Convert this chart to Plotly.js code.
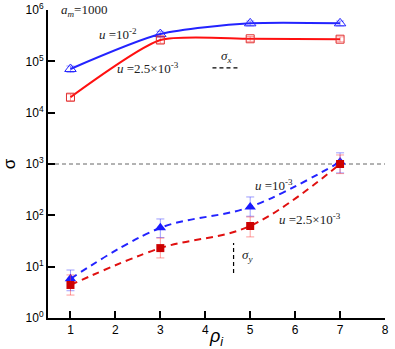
<!DOCTYPE html>
<html>
<head>
<meta charset="utf-8">
<script src="https://cdn.plot.ly/plotly-3.0.1.min.js"></script>
<style>body{margin:0;background:#fff}</style>
</head>
<body>
<div id="chart" style="width:395px;height:349px;"></div>
<script>
let rho = [1, 3, 5, 7];

// sigma_x, solid lines
let sxHigh = [7.1e4, 3.4e5, 5.5e5, 5.5e5];      // u = 1e-2
let sxHighErr = [1.0e4, 4.5e4, 6e4, 6e4];
let sxLow = [2.0e4, 2.6e5, 2.75e5, 2.7e5];      // u = 2.5e-3
let sxLowErr = [3e3, 3.5e4, 3e4, 3e4];

// sigma_y, dashed lines
let syHigh = [5.8, 57, 146, 1100];              // u = 1e-3
let syHighUp = [2.8, 28, 82, 550];
let syHighDn = [2.4, 20, 50, 430];
let syLow = [4.4, 23, 62, 1000];                // u = 2.5e-3
let syLowUp = [2.5, 13, 31, 500];
let syLowDn = [1.6, 8.2, 24, 350];

let xRef = [0.5, 8];
let yRef = [1000, 1000];

let yTickVals = [1, 10, 100, 1000, 1e4, 1e5, 1e6];
let yTickText = ['10<sup>0</sup>', '10<sup>1</sup>', '10<sup>2</sup>', '10<sup>3</sup>', '10<sup>4</sup>', '10<sup>5</sup>', '10<sup>6</sup>'];

const blue = '#2323ff';
const red = '#ff1010';

function errs(up, dn, col) {
    return {type: 'data', symmetric: false, array: up, arrayminus: dn, color: col, thickness: 1, width: 4};
}

let data = [
    {
        x: xRef, y: yRef, mode: 'lines', showlegend: false,
        line: {color: '#666', width: 1, dash: '4px,3px'}, hoverinfo: 'skip'
    },
    {
        x: rho, y: sxHigh, mode: 'lines+markers', line: {color: blue, width: 2, shape: 'spline', smoothing: 0.7},
        marker: {symbol: 'triangle-up-open', size: 10, color: blue, line: {width: 1}},
        error_y: errs(sxHighErr, sxHighErr, 'rgba(60,60,255,0.5)')
    },
    {
        x: rho, y: sxLow, mode: 'lines+markers', line: {color: red, width: 2, shape: 'spline', smoothing: 0.6},
        marker: {symbol: 'square-open', size: 8, color: '#e03030', line: {width: 1}},
        error_y: errs(sxLowErr, sxLowErr, 'rgba(255,60,60,0.5)')
    },
    {
        x: rho, y: syHigh, mode: 'lines+markers', line: {color: blue, width: 2, dash: '7px,5px', shape: 'spline'},
        marker: {symbol: 'triangle-up', size: 10, color: '#1a1aff'},
        error_y: errs(syHighUp, syHighDn, 'rgba(60,60,255,0.5)')
    },
    {
        x: rho, y: syLow, mode: 'lines+markers', line: {color: '#e01010', width: 2, dash: '7px,5px', shape: 'spline'},
        marker: {symbol: 'square', size: 8, color: '#cc0000'},
        error_y: errs(syLowUp, syLowDn, 'rgba(255,60,60,0.5)')
    }
];

const serif = {family: "'Liberation Serif', 'DejaVu Serif', serif", size: 13, color: '#222'};

function note(txt, x, ylog) {
    return {text: txt, x: x, y: ylog, xref: 'x', yref: 'y', showarrow: false, font: serif};
}

let layout = {
    width: 395, height: 349,
    margin: {l: 48, r: 10, t: 10, b: 31},
    paper_bgcolor: '#fff', plot_bgcolor: '#fff',
    showlegend: false,
    font: {family: "'Liberation Sans', Arial, sans-serif", size: 12, color: '#000'},
    xaxis: {
        range: [0.5, 8], tickvals: [1, 2, 3, 4, 5, 6, 7, 8],
        showgrid: false, zeroline: false, showline: true, linecolor: '#000', linewidth: 2,
        ticks: 'inside', ticklen: 7, tickwidth: 2, tickcolor: '#000',
        title: {text: '<i>ρ<sub>i</sub></i>', font: {size: 18}, standoff: 2}
    },
    yaxis: {
        type: 'log', range: [0, 6], tickvals: yTickVals, ticktext: yTickText,
        showgrid: false, zeroline: false, showline: true, linecolor: '#000', linewidth: 2,
        ticks: 'inside', ticklen: 7, tickwidth: 2, tickcolor: '#000',
        title: {text: 'σ', font: {size: 17}, standoff: 6}
    },
    annotations: [
        note('<i>a<sub>m</sub></i>=1000', 1.3, 6.0),
        note('<i>u</i> =10<sup>-2</sup>', 2.06, 5.53),
        note('<i>u</i> =2.5×10<sup>-3</sup>', 2.72, 4.87),
        note('<i>σ<sub>x</sub></i>', 4.46, 5.1),
        note('<i>u</i> =10<sup>-3</sup>', 5.54, 2.59),
        note('<i>u</i> =2.5×10<sup>-3</sup>', 6.34, 1.93),
        note('<i>σ<sub>y</sub></i>', 4.95, 1.21)
    ],
    shapes: [
        {type: 'line', xref: 'x', yref: 'paper', x0: 4.16, x1: 4.78, y0: 0.812, y1: 0.812,
         line: {color: '#000', width: 1.2, dash: '4px,3px'}},
        {type: 'line', xref: 'x', yref: 'paper', x0: 4.63, x1: 4.63, y0: 0.146, y1: 0.2435,
         line: {color: '#000', width: 1.2, dash: '4px,3px'}}
    ]
};

Plotly.newPlot('chart', data, layout, {displayModeBar: false, staticPlot: true});
</script>
</body>
</html>
